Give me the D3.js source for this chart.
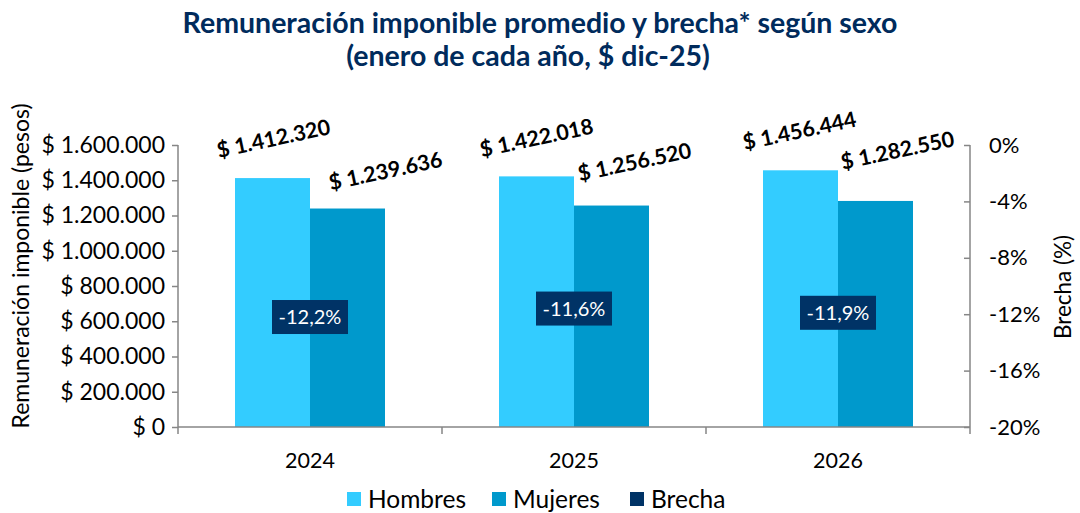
<!DOCTYPE html>
<html><head><meta charset="utf-8">
<script src="https://cdn.jsdelivr.net/npm/d3@7"></script>
<style>body{margin:0;background:#fff;} svg{display:block;font-family:Lato, "Open Sans", sans-serif;}</style>
</head><body>
<svg id="c" width="1080" height="513"></svg>
<script>
const years = ["2024","2025","2026"];
const hombres = [1412320, 1422018, 1456444];
const mujeres = [1239636, 1256520, 1282550];
const brecha = [-12.2, -11.6, -11.9];
const leftTicks = [0,200000,400000,600000,800000,1000000,1200000,1400000,1600000];
const rightTicks = [0,-4,-8,-12,-16,-20];
const seriesNames = ["Hombres","Mujeres","Brecha"];
const colors = ["#33CCFF","#0099CC","#003366"];
// manual label placement (offset of label centre from bar top-centre)
const hLabelOff = [[1,-40],[0,-39],[-1,-40]];
const mLabelOff = [[38,-38],[23,-44],[22,-51]];

const svg = d3.select("#c");
const L=178, R=970, T=145, B=427;
const x = d3.scaleBand().domain(years).range([L,R]).paddingInner(0).paddingOuter(0);
const y = d3.scaleLinear().domain([0,1600000]).range([B,T]);
const y2 = d3.scaleLinear().domain([-20,0]).range([B,T]);
const bw = 75;
const fmtNum = v => "$ " + d3.format(",")(v).replace(/,/g,".");
const fmtPct = v => d3.format(".1f")(v).replace(".",",").replace("−","-") + "%";

// title
svg.append("text").attr("x",540).attr("y",33).attr("text-anchor","middle")
  .attr("font-size",28.5).attr("font-weight","bold").attr("fill","#002B5C")
  .text("Remuneración imponible promedio y brecha* según sexo");
svg.append("text").attr("x",528).attr("y",66).attr("text-anchor","middle")
  .attr("font-size",28.5).attr("font-weight","bold").attr("fill","#002B5C")
  .text("(enero de cada año, $ dic-25)");

// bars
const g = svg.append("g");
years.forEach((yr,i)=>{
  const c = x(yr)+x.bandwidth()/2;
  g.append("rect").attr("x",c-bw).attr("y",y(hombres[i])).attr("width",bw).attr("height",B-y(hombres[i])).attr("fill",colors[0]);
  g.append("rect").attr("x",c).attr("y",y(mujeres[i])).attr("width",bw).attr("height",B-y(mujeres[i])).attr("fill",colors[1]);
  [[hombres[i],c-bw/2,hLabelOff[i]],[mujeres[i],c+bw/2,mLabelOff[i]]].forEach(([v,cx,off])=>{
    g.append("text").attr("transform",`translate(${cx+off[0]},${y(v)+off[1]}) rotate(-12)`)
      .attr("text-anchor","middle").attr("dominant-baseline","central")
      .attr("font-size",21.5).attr("font-weight","bold").attr("fill","#000")
      .text(fmtNum(v));
  });
  // brecha label box
  const by = y2(brecha[i]);
  g.append("rect").attr("x",c-38).attr("y",by-17).attr("width",76).attr("height",34).attr("fill",colors[2]);
  g.append("text").attr("x",c).attr("y",by+7).attr("text-anchor","middle").attr("font-size",20).attr("fill","#fff").text(fmtPct(brecha[i]));
});

// axes
const axisColor = "#868686";
const la = svg.append("g").attr("transform",`translate(${L},0)`)
  .call(d3.axisLeft(y).tickValues(leftTicks).tickSize(6).tickPadding(7).tickFormat(fmtNum));
const ra = svg.append("g").attr("transform",`translate(${R},0)`)
  .call(d3.axisRight(y2).tickValues(rightTicks).tickSize(0).tickPadding(19).tickFormat(d=>(d3.format("d")(d)+"%").replace("−","-")));
ra.selectAll(".tick line").attr("x2",-6).attr("x1",0);
const xa = svg.append("g").attr("transform",`translate(0,${B})`)
  .call(d3.axisBottom(x).tickSize(0).tickPadding(26));
[L, ...years.map(v=>x(v)+x.bandwidth())].forEach(px=>{
  svg.append("line").attr("x1",px).attr("x2",px).attr("y1",B).attr("y2",B+7).attr("stroke",axisColor).attr("stroke-width",1.5);
});
[la,ra,xa].forEach(a=>{
  a.selectAll(".domain").attr("stroke",axisColor).attr("stroke-width",1.5);
  a.selectAll(".tick line").attr("stroke",axisColor).attr("stroke-width",1.5);
  a.selectAll("text").attr("fill","#000").attr("font-family","Lato, sans-serif");
});
la.selectAll("text").attr("font-size",23);
ra.selectAll("text").attr("font-size",22);
xa.selectAll("text").attr("font-size",21.5);
la.select(".domain").attr("d",`M0,${T}V${B}`);
ra.select(".domain").attr("d",`M0,${T}V${B}`);
xa.select(".domain").attr("d",`M${L},0H${R}`);

// axis titles
svg.append("text").attr("transform",`translate(29,266) rotate(-90)`).attr("text-anchor","middle")
  .attr("font-size",23).attr("fill","#000").text("Remuneración imponible (pesos)");
svg.append("text").attr("transform",`translate(1071,287) rotate(-90)`).attr("text-anchor","middle")
  .attr("font-size",22.5).attr("fill","#000").text("Brecha (%)");

// legend
const legX = [347, 492, 630];
seriesNames.forEach((n,i)=>{
  svg.append("rect").attr("x",legX[i]).attr("y",492).attr("width",14).attr("height",14).attr("fill",colors[i]);
  svg.append("text").attr("x",legX[i]+21).attr("y",508).attr("font-size",24.5).attr("fill","#000").text(n);
});
</script>
</body></html>
